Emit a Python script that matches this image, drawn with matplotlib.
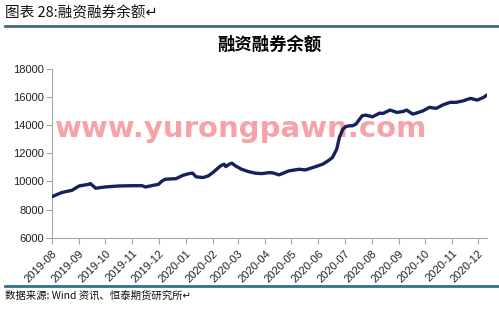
import matplotlib
matplotlib.use("Agg")
import matplotlib.pyplot as plt
import matplotlib.dates as mdates
import pandas as pd
from matplotlib.lines import Line2D

plt.rcParams['font.family'] = ['Noto Sans CJK SC', 'DejaVu Sans']

# margin balance
dates = ["2019-08-01", "2019-08-12", "2019-08-24", "2019-09-01", "2019-09-12",
         "2019-09-14", "2019-09-20", "2019-10-01", "2019-10-16", "2019-11-01",
         "2019-11-12", "2019-11-16", "2019-12-01", "2019-12-05", "2019-12-09",
         "2019-12-21", "2019-12-29", "2020-01-05", "2020-01-09", "2020-01-13",
         "2020-01-21", "2020-01-27", "2020-02-01", "2020-02-10", "2020-02-14",
         "2020-02-16", "2020-02-20", "2020-02-23", "2020-02-27", "2020-03-05",
         "2020-03-13", "2020-03-21", "2020-03-28", "2020-04-06", "2020-04-10",
         "2020-04-17", "2020-04-28", "2020-05-10", "2020-05-17", "2020-05-29",
         "2020-06-06", "2020-06-13", "2020-06-17", "2020-06-22", "2020-06-25",
         "2020-06-29", "2020-07-02", "2020-07-06", "2020-07-10", "2020-07-14",
         "2020-07-21", "2020-07-25", "2020-08-02", "2020-08-10", "2020-08-14",
         "2020-08-22", "2020-08-30", "2020-09-06", "2020-09-10", "2020-09-17",
         "2020-09-21", "2020-09-29", "2020-10-06", "2020-10-14", "2020-10-22",
         "2020-10-30", "2020-11-06", "2020-11-14", "2020-11-22", "2020-11-30",
         "2020-12-07", "2020-12-11"]
balance = [8920, 9210, 9375, 9680, 9800,
           9850, 9520, 9610, 9680, 9700,
           9700, 9610, 9800, 10040, 10160,
           10200, 10440, 10560, 10590, 10330,
           10280, 10400, 10630, 11110, 11230,
           11060, 11230, 11300, 11110, 10870,
           10700, 10590, 10560, 10630, 10610,
           10470, 10750, 10870, 10820, 11060,
           11230, 11510, 11700, 12300, 13130,
           13720, 13890, 13960, 13960, 14080,
           14670, 14720, 14600, 14860, 14840,
           15080, 14910, 14980, 15080, 14790,
           14860, 15030, 15270, 15200, 15460,
           15630, 15630, 15740, 15910, 15790,
           15980, 16150]
month_ticks = pd.date_range("2019-08-01", "2020-12-01", freq="MS")
yticks = [6000, 8000, 10000, 12000, 14000, 16000, 18000]

x = pd.to_datetime(dates)

fig = plt.figure(figsize=(4.99, 3.09), dpi=100)
ax = fig.add_axes([0.1042, 0.2307, 0.8717, 0.546])

# watermark sits under the line
ax.text(0.436, 0.645, "www.yurongpawn.com", transform=ax.transAxes,
        fontsize=21, fontweight="bold", color="#f6a3a8", ha="center",
        va="center", family="DejaVu Sans", zorder=1)

ax.plot(x, balance, color="#15235a", lw=2.4, zorder=3, solid_joinstyle="round")

ax.set_xlim(x[0], x[-1])
ax.set_ylim(6000, 18000)
ax.set_yticks(yticks)
ax.set_xticks(month_ticks)
ax.xaxis.set_major_formatter(mdates.DateFormatter("%Y-%m"))

for s in ["top", "right"]:
    ax.spines[s].set_visible(False)
for s in ["left", "bottom"]:
    ax.spines[s].set_color("#a6a6a6")
    ax.spines[s].set_linewidth(0.8)
ax.tick_params(axis="both", color="#a6a6a6", length=4, width=0.8,
               labelsize=8, labelcolor="#222222")
ax.tick_params(axis="y", pad=2)
for lab in ax.get_yticklabels():
    lab.set_family("Liberation Sans")
for lab in ax.get_xticklabels():
    lab.set_family("Liberation Sans")
    lab.set_rotation(45)
    lab.set_ha("right")
    lab.set_rotation_mode("anchor")

ax.set_title("融资融券余额", fontsize=12.5, fontweight="bold", pad=14)

fig.text(0.01, 1 - 13 / 309, "图表 28:融资融券余额↵", fontsize=10.5,
         va="center", ha="left", color="#111111")
fig.add_artist(Line2D([0.01, 1.0], [1 - 26 / 309] * 2, color="#46677c", lw=2))
fig.add_artist(Line2D([0.01, 1.0], [1 - 286 / 309] * 2, color="#2f7191", lw=2))
fig.text(0.01, 1 - 296 / 309, "数据来源: Wind 资讯、恒泰期货研究所↵", fontsize=7.5,
         va="center", ha="left", color="#111111")

fig.savefig("out.png", dpi=100)
